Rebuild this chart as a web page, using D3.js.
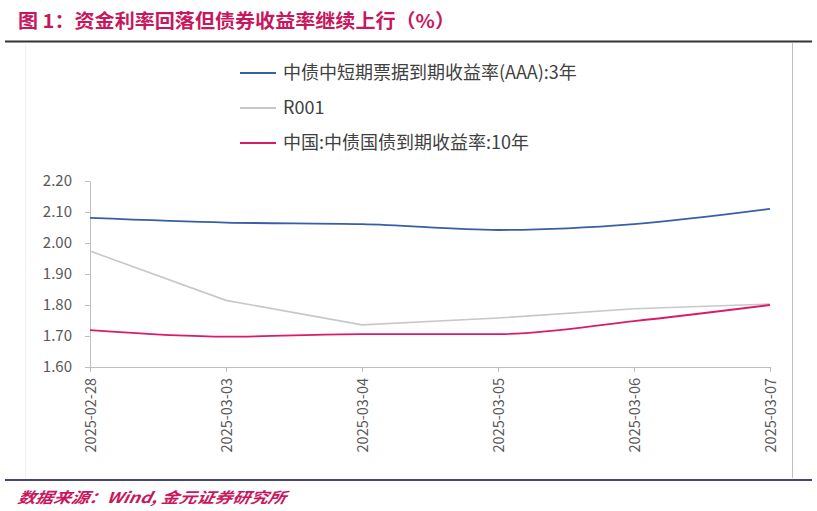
<!DOCTYPE html>
<html><head><meta charset="utf-8">
<script src="https://cdn.jsdelivr.net/npm/d3@7"></script>
<style>body{margin:0;background:#fff;}svg{display:block;}</style>
</head><body>
<svg id="c" width="817" height="511"></svg>
<script>
const dates = ["2025-02-28","2025-03-03","2025-03-04","2025-03-05","2025-03-06","2025-03-07"];
const seriesNames = ["中债中短期票据到期收益率(AAA):3年","R001","中国:中债国债到期收益率:10年"];
const cpNote3y = [2.081, 2.066, 2.061, 2.042, 2.061, 2.110];
const r001 = [1.974, 1.815, 1.736, 1.758, 1.788, 1.803];
const gov10y = [1.719, 1.698, 1.706, 1.706, 1.748, 1.800];
const yTicks = [1.60, 1.70, 1.80, 1.90, 2.00, 2.10, 2.20];
const colors = ["#3A5DA8", "#C8C8C8", "#D81B6A"];

const svg = d3.select("#c");
const font = "'Noto Sans CJK SC','Noto Sans',sans-serif";

// title
svg.append("text").attr("x", 18).attr("y", 28)
  .attr("font-family", font).attr("font-weight", "bold").attr("font-size", 19)
  .attr("fill", "#C8175D").attr("textLength", 437).attr("lengthAdjust", "spacingAndGlyphs")
  .text("图 1：资金利率回落但债券收益率继续上行（%）");
svg.append("line").attr("x1", 5).attr("x2", 812).attr("y1", 41.5).attr("y2", 41.5)
  .attr("stroke", "#333").attr("stroke-width", 2);
// frame
svg.append("line").attr("x1", 25.5).attr("x2", 25.5).attr("y1", 44).attr("y2", 478)
  .attr("stroke", "#f0f0f0").attr("stroke-width", 1);
svg.append("line").attr("x1", 792.5).attr("x2", 792.5).attr("y1", 43).attr("y2", 478)
  .attr("stroke", "#bfbfbf").attr("stroke-width", 1);
svg.append("line").attr("x1", 5).attr("x2", 812).attr("y1", 480).attr("y2", 480)
  .attr("stroke", "#44447a").attr("stroke-width", 2.2);
svg.append("text").attr("x", 18).attr("y", 503)
  .attr("font-family", font).attr("font-weight", "bold").attr("font-size", 15)
  .attr("font-style", "italic").attr("fill", "#C8175D")
  .attr("textLength", 268).attr("lengthAdjust", "spacingAndGlyphs")
  .attr("transform", "skewX(-12) translate(106,0)")
  .text("数据来源：Wind, 金元证券研究所");

const x = d3.scalePoint().domain(dates).range([90, 770]);
const y = d3.scaleLinear().domain([1.6, 2.2]).range([367, 181]);

// y axis
const ya = svg.append("g").attr("transform", "translate(90,0)")
  .call(d3.axisLeft(y).tickValues(yTicks).tickFormat(d3.format(".2f")).tickSize(5).tickSizeOuter(0));
ya.select(".domain").attr("stroke", "#bfbfbf");
ya.selectAll(".tick line").attr("stroke", "#bfbfbf");
ya.selectAll(".tick text").attr("x", -18).attr("font-family", font).attr("font-size", 15).attr("fill", "#595959");

// x axis
const xa = svg.append("g").attr("transform", "translate(0,367)")
  .call(d3.axisBottom(x).tickSize(5).tickSizeOuter(0));
xa.select(".domain").attr("stroke", "#bfbfbf");
xa.selectAll(".tick line").attr("stroke", "#bfbfbf");
xa.selectAll(".tick text").attr("font-family", font).attr("font-size", 14.5).attr("fill", "#595959")
  .attr("transform", "rotate(-90)").attr("text-anchor", "end")
  .attr("x", -11).attr("y", 0).attr("dy", "0.35em");

const all = [cpNote3y, r001, gov10y];
const line = d3.line().x((d, i) => x(dates[i])).y(d => y(d)).curve(d3.curveCatmullRom.alpha(0.5));
all.forEach((s, k) => {
  svg.append("path").datum(s).attr("d", k === 1 ? line.curve(d3.curveLinear)(s) : line.curve(d3.curveMonotoneX)(s))
    .attr("fill", "none")
    .attr("stroke", colors[k]).attr("stroke-width", k === 1 ? 1.6 : 1.8);
});

// legend
seriesNames.forEach((n, k) => {
  const yy = 73 + k * 35;
  svg.append("line").attr("x1", 240).attr("x2", 276).attr("y1", yy).attr("y2", yy)
    .attr("stroke", colors[k]).attr("stroke-width", 1.8);
  svg.append("text").attr("x", 283).attr("y", yy).attr("dy", "0.35em")
    .attr("font-family", font).attr("font-size", 18).attr("fill", "#404040").text(n);
});
</script>
</body></html>
